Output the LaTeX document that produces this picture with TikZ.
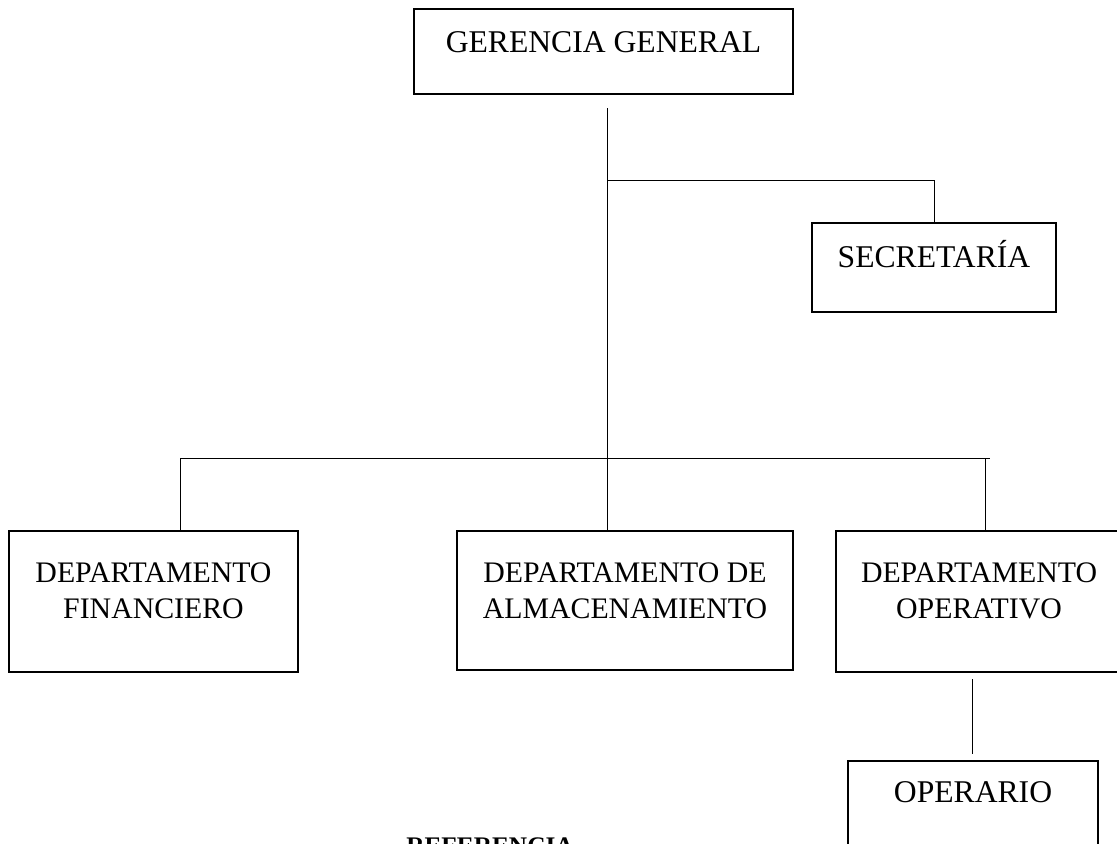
\documentclass[tikz,border=0pt]{standalone}
\usepackage{fontspec}
\setmainfont{Liberation Serif}

\tikzset{
  orgbox/.style={draw, line width=1.4pt, inner sep=0pt, anchor=base, align=center},
  bigtext/.style={font=\fontsize{22.5}{27}\selectfont},
  deptext/.style={font=\fontsize{21.2}{25.6}\selectfont},
  link/.style={line width=0.7pt}
}

\begin{document}
\begin{tikzpicture}[x=0.025cm, y=-0.025cm]
    \useasboundingbox (0,0) rectangle (1117,843);
    % Top and side boxes
    \node[orgbox, bigtext, minimum width=9.475cm, text height=1.075cm, text depth=1.05cm] (gg) at (603.5,52) {GERENCIA GENERAL};
    \node[orgbox, bigtext, minimum width=6.1cm, text height=1.1cm, text depth=1.125cm] (sec) at (934,267) {SECRETARÍA};
    % Departments
    \foreach \n/\x/\w/\d/\lbl in {fin/153.5/7.225/1.35/{DEPARTAMENTO\\FINANCIERO}, alm/625/8.4/1.3/{DEPARTAMENTO DE\\ALMACENAMIENTO}, ope/979/7.15/1.35/{DEPARTAMENTO\\OPERATIVO}} {
        \node[orgbox, deptext, minimum width=\w cm, text height=2.175cm, text depth=\d cm] (\n) at (\x,618) {\lbl};
    }
    \node[orgbox, bigtext, minimum width=6.25cm, text height=1.025cm, text depth=1.225cm] (opr) at (973,802) {OPERARIO};
    \node[font=\fontsize{18}{22}\selectfont\bfseries, anchor=base] (ref) at (490,854) {REFERENCIA};
    % Connectors
    \coordinate (tk) at (607,108);
    \coordinate (sj) at (607,180);
    \coordinate (busl) at (180,458);
    \coordinate (busr) at (990,458);
    \coordinate (dop) at (985,458);
    \coordinate (opx) at (972,0);
    \draw[link] (tk) -- (tk |- alm.north);
    \draw[link] (sj) -| (sec.north);
    \draw[link] (busl) -- (busr);
    \draw[link] (busl) -- (busl |- fin.north);
    \draw[link] (dop) -- (dop |- ope.north);
    \draw[link, shorten <=0.15cm, shorten >=0.15cm] (ope.south -| opx) -- (opr.north -| opx);
\end{tikzpicture}
\end{document}
